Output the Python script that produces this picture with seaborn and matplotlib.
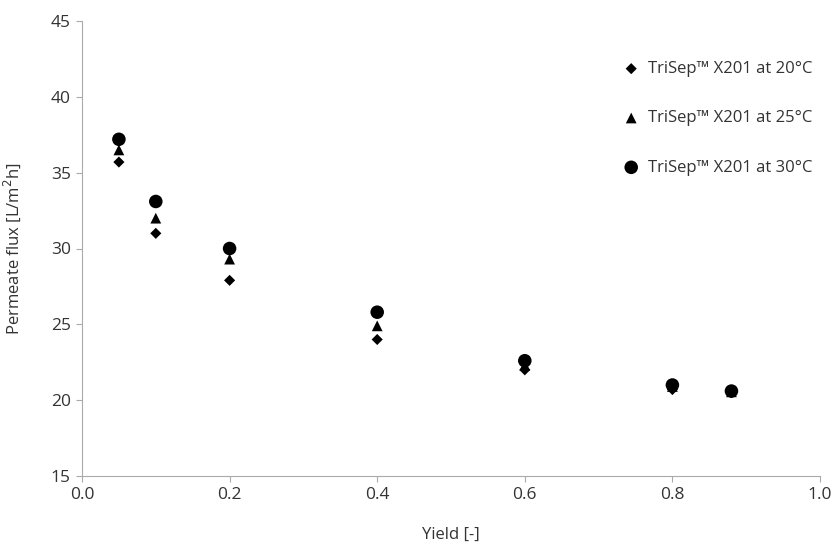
import matplotlib
matplotlib.use("Agg")
import matplotlib.pyplot as plt
import pandas as pd
import seaborn as sns

# yield values and permeate flux
yields = [0.05, 0.1, 0.2, 0.4, 0.6, 0.8, 0.88]
flux_20 = [35.7, 31.0, 27.9, 24.0, 22.0, 20.7, 20.5]
flux_25 = [36.5, 32.0, 29.3, 24.9, 22.3, 20.9, 20.55]
flux_30 = [37.2, 33.1, 30.0, 25.8, 22.6, 21.0, 20.6]
labels = ["TriSep™ X201 at 20°C", "TriSep™ X201 at 25°C", "TriSep™ X201 at 30°C"]

sns.set_style("white")
plt.rcParams["font.family"] = ["Open Sans", "DejaVu Sans"]

fig = plt.figure(figsize=(8.35, 5.5), dpi=100)
ax = fig.add_axes([82 / 835, 1 - 476 / 550, (820 - 82) / 835, (476 - 21) / 550])

# one call per series so each marker gets its own size
for vals, lab, mk, sz in zip([flux_20, flux_25, flux_30], labels, ["D", "^", "o"], [32, 60, 95]):
    df = pd.DataFrame({"yield": yields, "flux": vals})
    sns.scatterplot(data=df, x="yield", y="flux", marker=mk, s=sz, color="black",
                    edgecolor="none", label=lab, ax=ax)

ax.set_xlim(0, 1.0)
ax.set_ylim(15, 45)
ax.set_xticks([0, 0.2, 0.4, 0.6, 0.8, 1.0])
ax.set_xticklabels(["0.0", "0.2", "0.4", "0.6", "0.8", "1.0"])
ax.set_yticks(range(15, 50, 5))
ax.tick_params(labelsize=12.5, labelcolor="#333333", length=4, direction="out",
               bottom=True, left=True, color="#aaaaaa", pad=4)
ax.set_xlabel("Yield [-]", fontsize=12, labelpad=17, color="#333333")
ax.set_ylabel("Permeate flux [L/m$^2$h]", fontsize=12, labelpad=20, color="#333333")
for side in ["top", "right"]:
    ax.spines[side].set_visible(False)
for side in ["left", "bottom"]:
    ax.spines[side].set_color("#aaaaaa")

leg = ax.legend(loc="upper right", bbox_to_anchor=(1.01, 0.945), frameon=False,
                fontsize=12, labelspacing=2.0, handletextpad=0.0, markerscale=1.0)
for t in leg.get_texts():
    t.set_color("#333333")

plt.savefig("out.png", dpi=100)
